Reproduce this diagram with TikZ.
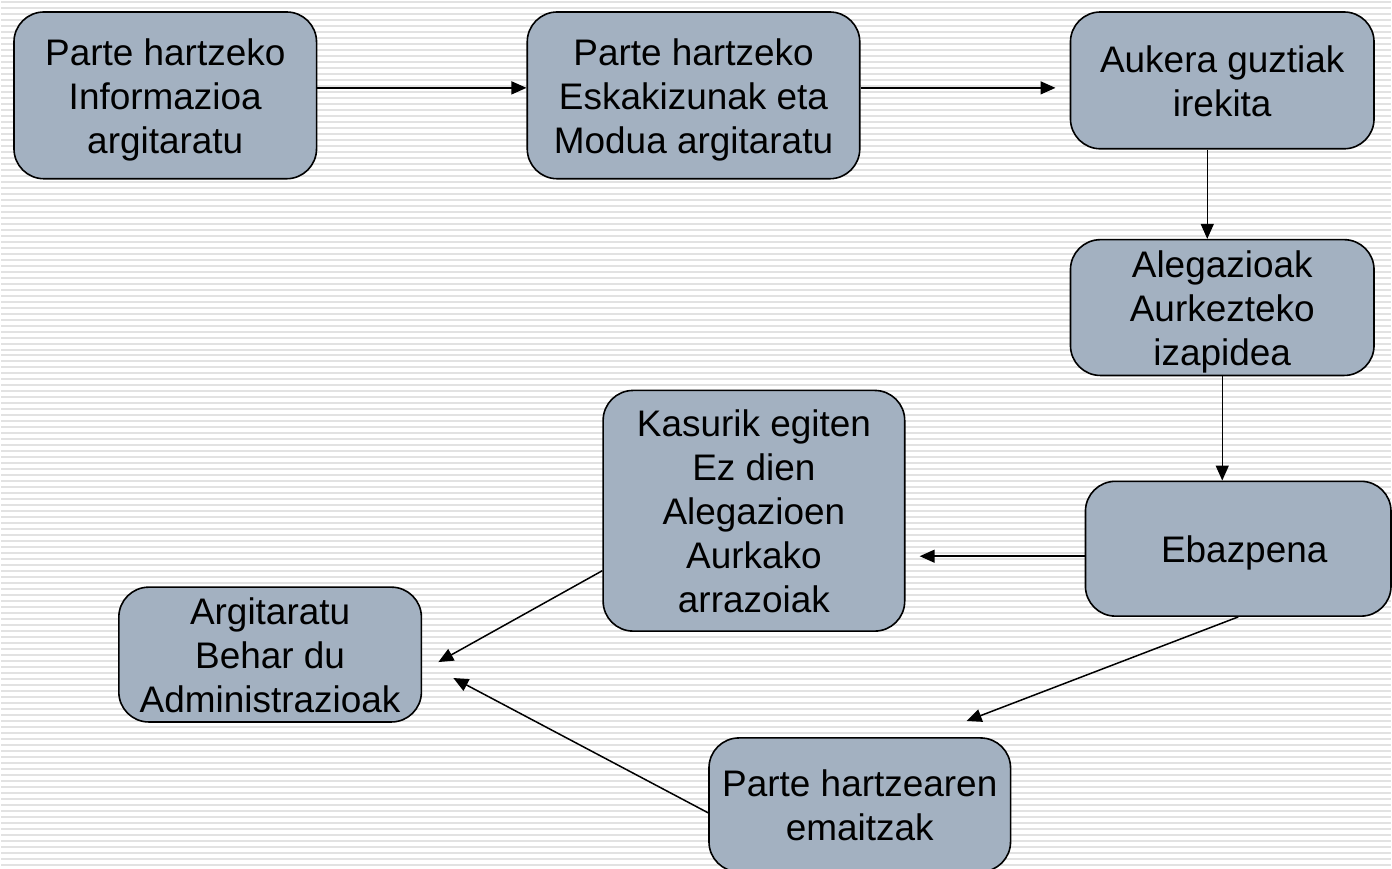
\documentclass[tikz,border=0pt]{standalone}
\usepackage{fontspec}
\setmainfont{Liberation Sans}
\usetikzlibrary{arrows.meta}
\definecolor{boxfill}{RGB}{163,177,193}
\definecolor{stripe}{RGB}{226,226,226}

\begin{document}
\begin{tikzpicture}
    [
    x=1pt, y=-1pt,
    stage/.style={draw=black, line width=1.6pt, fill=boxfill, rounded corners=30pt,
      align=center, inner sep=0pt, text depth=8pt, font=\fontsize{37}{44}\selectfont},
    rows/.style={text height=#1},
    flow/.style={line width=1.5pt, -{Triangle[length=15pt,width=13pt]}},
    ]
    % striped background
    \fill[white] (0,0) rectangle (1392,870);
    \foreach \y in {2,8,...,870}
      \draw[stripe, line width=2pt] (0,\y) -- (1392,\y);
    \useasboundingbox (0,0) rectangle (1392,870);

    \node[stage, rows=124pt, minimum width=303pt, minimum height=167pt] (info) at (164.5,95.5)
      {Parte hartzeko\\Informazioa\\argitaratu};
    \node[stage, rows=124pt, minimum width=333pt, minimum height=167pt] (modua) at (693.5,95.5)
      {Parte hartzeko\\Eskakizunak eta\\Modua argitaratu};
    \node[stage, rows=80pt, minimum width=304pt, minimum height=137pt] (aukera) at (1223,80.5)
      {Aukera guztiak\\irekita};
    \node[stage, rows=124pt, minimum width=304pt, minimum height=136pt] (alegazio) at (1223,308)
      {Alegazioak\\Aurkezteko\\izapidea};
    \node[stage, rows=36pt, minimum width=306pt, minimum height=135pt] (ebazpena) at (1239,549.5)
      {\hspace{12pt}Ebazpena};
    \node[stage, rows=212pt, minimum width=302pt, minimum height=241pt] (kasurik) at (754,511.5)
      {Kasurik egiten\\Ez dien\\Alegazioen\\Aurkako\\arrazoiak};
    \node[stage, rows=124pt, minimum width=303pt, minimum height=135pt] (argitaratu) at (269.5,655.5)
      {Argitaratu\\Behar du\\Administrazioak};
    \node[stage, rows=80pt, minimum width=302pt, minimum height=134pt] (emaitzak) at (860,806)
      {Parte hartzearen\\emaitzak};

    % free arrow ends
    \coordinate (rowA) at (0,88);
    \coordinate (colA) at (1208,0);
    \coordinate (tipA) at (1056,88);
    \coordinate (tipB) at (920,557);
    \coordinate (tipC) at (438,663);
    \coordinate (tipD) at (967,722);
    \coordinate (tipE) at (453,679);

    \draw[flow] (info.east |- rowA) -- (modua.west |- rowA);
    \draw[flow] (modua.east |- tipA) -- (tipA);
    \draw[flow] (aukera.south -| colA) -- (alegazio.north -| colA);
    \draw[flow] (alegazio.south) -- (ebazpena.north -| alegazio.south);
    \draw[flow] (ebazpena.west |- tipB) -- (tipB);
    \draw[flow] ([yshift=-60pt]kasurik.west) -- (tipC);
    \draw[flow] (ebazpena.south) -- (tipD);
    \draw[flow] ([yshift=-8pt]emaitzak.west) -- (tipE);
\end{tikzpicture}
\end{document}
